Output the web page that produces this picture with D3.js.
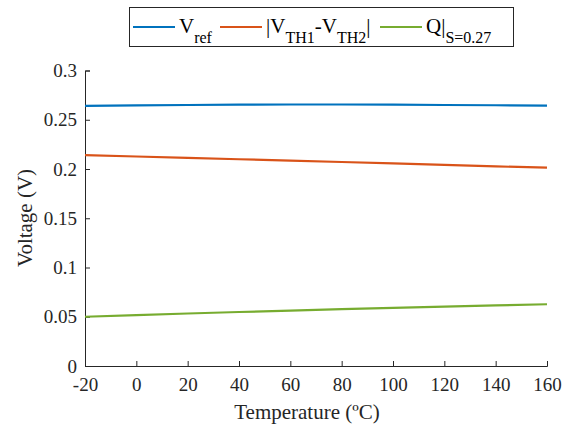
<!DOCTYPE html>
<html><head><meta charset="utf-8">
<script src="https://cdn.jsdelivr.net/npm/d3@7"></script>
<style>body{margin:0;background:#fff}svg{display:block}
svg text{font-family:"Liberation Serif","Times New Roman","DejaVu Serif",serif !important;}</style>
</head><body>
<script>
const temps = [-20, 0, 20, 40, 60, 80, 100, 120, 140, 160];
const vref = [0.2640, 0.2645, 0.2650, 0.2653, 0.2655, 0.2655, 0.2653, 0.2650, 0.2647, 0.2643];
const vthDiff = [0.2140, 0.2127, 0.2113, 0.2099, 0.2085, 0.2071, 0.2057, 0.2042, 0.2027, 0.2013];
const qS = [0.0500, 0.0517, 0.0533, 0.0548, 0.0563, 0.0577, 0.0590, 0.0603, 0.0615, 0.0627];
const xTicks = [-20, 0, 20, 40, 60, 80, 100, 120, 140, 160];
const yTicks = [0, 0.05, 0.1, 0.15, 0.2, 0.25, 0.3];
const colors = ["#0072BD", "#D95319", "#77AC30"];

const W = 565, H = 428;
const svg = d3.select("body").append("svg").attr("width", W).attr("height", H);
const x = d3.scaleLinear().domain([-20, 160]).range([85, 547]);
const y = d3.scaleLinear().domain([0, 0.3]).range([366, 70.5]);
const axisColor = "#262626";

const gx = svg.append("g").attr("transform", `translate(0,${y(0)})`)
  .call(d3.axisBottom(x).tickValues(xTicks).tickSize(-5).tickPadding(10).tickFormat(d => d));
const gy = svg.append("g").attr("transform", `translate(${x(-20)},0)`)
  .call(d3.axisLeft(y).tickValues(yTicks).tickSize(-5).tickPadding(8).tickFormat(d => d));
[gx, gy].forEach(g => {
  g.attr("font-family", null);
  g.select(".domain").attr("stroke", axisColor).attr("stroke-width", 1);
  g.selectAll(".tick line").attr("stroke", axisColor);
  g.selectAll("text").attr("fill", axisColor).style("font-size", "19px");
});
gx.selectAll("text").attr("dy", "0.8em");

const line = d3.line().x((d, i) => x(temps[i])).y(d => y(d));
[vref, vthDiff, qS].forEach((s, k) => {
  svg.append("path").datum(s).attr("d", line).attr("fill", "none")
    .attr("stroke", colors[k]).attr("stroke-width", 2.2);
});

svg.append("text").attr("x", 307).attr("y", 419).attr("text-anchor", "middle")
  .attr("fill", axisColor).style("font-size", "21px").text("Temperature (ºC)");
svg.append("text").attr("transform", "translate(32,218) rotate(-90)").attr("text-anchor", "middle")
  .attr("fill", axisColor).style("font-size", "21px").text("Voltage (V)");

// legend
const lg = svg.append("g");
lg.append("rect").attr("x", 129.5).attr("y", 7.5).attr("width", 384).attr("height", 39)
  .attr("fill", "#fff").attr("stroke", "#262626").attr("stroke-width", 1);
const items = [
  {x: 133, main: "V", sub: "ref", tail: ""},
  {x: 220, main: "|V", sub: "TH1", mid: "-V", sub2: "TH2", tail: "|"},
  {x: 380, main: "Q|", sub: "S=0.27", tail: ""}
];
const ly = 27;
items.forEach((it, k) => {
  lg.append("line").attr("x1", it.x).attr("x2", it.x + 42).attr("y1", ly).attr("y2", ly)
    .attr("stroke", colors[k]).attr("stroke-width", 2.2);
  const t = lg.append("text").attr("x", it.x + 46).attr("y", ly + 6).attr("fill", "#000")
    .style("font-size", "21px");
  t.append("tspan").text(it.main);
  t.append("tspan").attr("dy", 10).style("font-size", "16px").text(it.sub);
  if (it.mid) {
    t.append("tspan").attr("dy", -10).text(it.mid);
    t.append("tspan").attr("dy", 10).style("font-size", "16px").text(it.sub2);
    t.append("tspan").attr("dy", -10).text(it.tail);
  }
});
</script>
</body></html>
